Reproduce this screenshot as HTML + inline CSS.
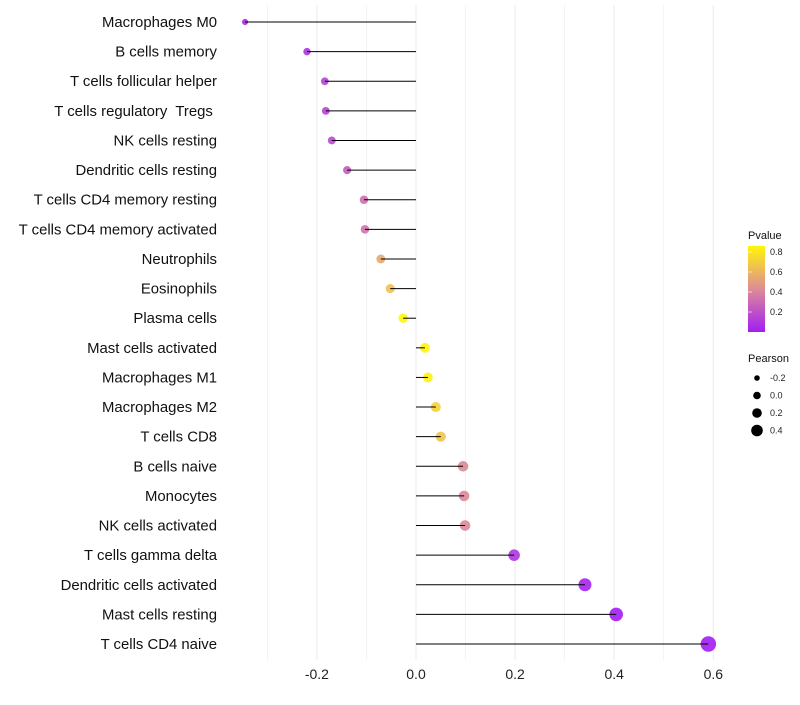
<!DOCTYPE html>
<html><head><meta charset="utf-8"><style>
body{margin:0;background:#fff;font-family:"Liberation Sans",sans-serif}
text{white-space:pre}
</style></head><body>
<svg id="c" width="800" height="700" xmlns="http://www.w3.org/2000/svg"></svg>
<script>
const categories=["Macrophages M0","B cells memory","T cells follicular helper","T cells regulatory  Tregs ","NK cells resting","Dendritic cells resting","T cells CD4 memory resting","T cells CD4 memory activated","Neutrophils","Eosinophils","Plasma cells","Mast cells activated","Macrophages M1","Macrophages M2","T cells CD8","B cells naive","Monocytes","NK cells activated","T cells gamma delta","Dendritic cells activated","Mast cells resting","T cells CD4 naive"];
const pearson=[-0.345,-0.22,-0.184,-0.182,-0.17,-0.139,-0.105,-0.103,-0.071,-0.052,-0.026,0.018,0.024,0.040,0.050,0.095,0.097,0.099,0.198,0.341,0.404,0.590];
const pvalue=[0.05,0.1,0.15,0.15,0.18,0.25,0.32,0.33,0.55,0.65,0.86,0.88,0.85,0.72,0.66,0.42,0.42,0.42,0.1,0.03,0.01,0.001];
const xTicks=[-0.2,0,0.2,0.4,0.6];
const xTickLabels=["-0.2","0.0","0.2","0.4","0.6"];
const legendPearson=[-0.2,0,0.2,0.4];
const legendPearsonLabels=["-0.2","0.0","0.2","0.4"];
const legendPTicks=[0.2,0.4,0.6,0.8];

const NS="http://www.w3.org/2000/svg";
const svg=document.getElementById('c');
const X=v=>416+v*495.5;
const Y=i=>22+i*29.62;
const R=v=>Math.max(1.8,4.8+5*v);
const stops=[[0,[163,29,244]],[0.5,[222,140,150]],[1,[255,245,10]]];
function col(p){let t=Math.min(1,Math.max(0,(p-0.01)/0.85));for(let k=0;k<stops.length-1;k++){const a=stops[k],b=stops[k+1];if(t<=b[0]){const f=(t-a[0])/(b[0]-a[0]);return 'rgb('+a[1].map((c,j)=>Math.round(c+(b[1][j]-c)*f)).join(',')+')';}}return 'rgb(255,245,10)';}
function el(t,a,txt){const e=document.createElementNS(NS,t);for(const k in a)e.setAttribute(k,a[k]);if(txt!==undefined)e.textContent=txt;svg.appendChild(e);return e;}

for(let v=-0.3;v<=0.61;v+=0.1){const e=el('line',{x1:X(v),x2:X(v),y1:5,y2:660,stroke:'#ebebeb','stroke-width':Math.abs(Math.round(v*10))%2===0?1:0.6});

}
xTicks.forEach((v,i)=>{const t=el('text',{x:X(v),y:679,'text-anchor':'middle','font-size':14,fill:'#222'},xTickLabels[i]);

});
categories.forEach((c,i)=>{
const t=el('text',{x:217,y:Y(i)+5,'text-anchor':'end','font-size':14.9,fill:'#111'},c);


const p=el('circle',{cx:X(pearson[i]),cy:Y(i),r:R(pearson[i]),fill:col(pvalue[i]),'fill-opacity':0.9});


const l=el('line',{x1:X(0),x2:X(pearson[i]),y1:Y(i),y2:Y(i),stroke:'#000','stroke-width':1});


});
const defs=el('defs',{});
const lg=document.createElementNS(NS,'linearGradient');lg.setAttribute('id','pg');lg.setAttribute('x1','0');lg.setAttribute('y1','1');lg.setAttribute('x2','0');lg.setAttribute('y2','0');
[[0,'rgb(163,29,244)'],[0.5,'rgb(222,140,150)'],[1,'rgb(255,245,10)']].forEach(s=>{const st=document.createElementNS(NS,'stop');st.setAttribute('offset',s[0]);st.setAttribute('stop-color',s[1]);lg.appendChild(st);});
defs.appendChild(lg);
const lt=el('text',{x:748,y:239,'font-size':11,fill:'#111'},'Pvalue');


const bar=el('rect',{x:748,y:246,width:17,height:86,fill:'url(#pg)'});


const PY=p=>331-(p-0.01)*100;
legendPTicks.forEach(p=>{
const tk=el('line',{x1:748,x2:752,y1:PY(p),y2:PY(p),stroke:'#fff','stroke-width':0.6});


const t=el('text',{x:770,y:PY(p)+3,'font-size':9,fill:'#222'},p.toFixed(1));

});
const st=el('text',{x:748,y:362,'font-size':11,fill:'#111'},'Pearson');


legendPearson.forEach((v,i)=>{const y=378+i*17.5;
const c=el('circle',{cx:757,cy:y,r:R(v)-1,fill:'#000'});


const t=el('text',{x:770,y:y+3,'font-size':9,fill:'#222'},legendPearsonLabels[i]);

});
</script>
</body></html>
